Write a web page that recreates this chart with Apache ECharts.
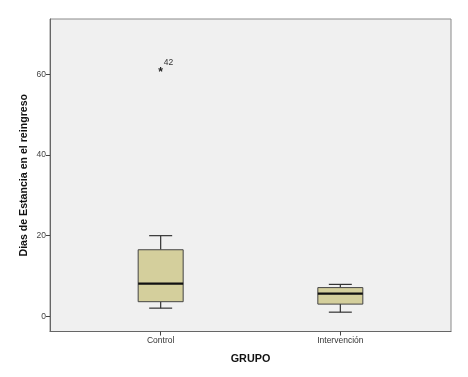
<!DOCTYPE html>
<html><head><meta charset="utf-8">
<script src="https://cdn.jsdelivr.net/npm/echarts@6/dist/echarts.min.js"></script>
<style>html,body{margin:0;padding:0;background:#fff;}#c{width:468px;height:377px;}</style>
</head><body><div id="c"></div>
<script>
const categories = ['Control', 'Intervención'];
const whiskerLow = [2.0, 1.0];
const q1 = [3.6, 3.0];
const median = [8.1, 5.6];
const q3 = [16.5, 7.1];
const whiskerHigh = [20.0, 7.9];
const outlierGroup = [0];
const outlierValue = [61];
const outlierCase = ['42'];
const yTicks = [0, 20, 40, 60];

const boxData = categories.map((c, i) => [i + 1, whiskerLow[i], q1[i], median[i], q3[i], whiskerHigh[i]]);
const outData = outlierGroup.map((g, i) => [g + 1, outlierValue[i], outlierCase[i]]);

const chart = echarts.init(document.getElementById('c'), null, {renderer: 'canvas'});
const fontFam = 'Liberation Sans, Arial, sans-serif';
chart.setOption({
  animation: false,
  backgroundColor: '#ffffff',
  grid: {left: 50, right: 17, top: 19, bottom: 45.5, show: true, backgroundColor: '#f0f0f0', borderColor: '#8a8a8a', borderWidth: 1},
  xAxis: {
    type: 'value', min: 0.384, max: 2.616,
    name: 'GRUPO', nameLocation: 'middle', nameGap: 22,
    nameTextStyle: {fontFamily: fontFam, fontWeight: 'bold', fontSize: 10.8, color: '#111'},
    axisLine: {show: true, onZero: false, lineStyle: {color: '#666', width: 1}},
    axisTick: {show: true, length: 4, customValues: [1, 2], lineStyle: {color: '#444'}},
    axisLabel: {customValues: [1, 2], formatter: v => categories[Math.round(v) - 1] || '', fontFamily: fontFam, fontSize: 8.5, color: '#333', margin: 5},
    splitLine: {show: false}
  },
  yAxis: {
    type: 'value', min: -3.8, max: 73.8,
    name: 'Dias de Estancia en el reingreso', nameLocation: 'middle', nameGap: 20, nameRotate: 90,
    nameMoveOverlap: false,
    nameTextStyle: {fontFamily: fontFam, fontWeight: 'bold', fontSize: 10.6, color: '#111'},
    axisLine: {show: true, onZero: false, lineStyle: {color: '#666', width: 1}},
    axisTick: {show: true, length: 4, customValues: yTicks, lineStyle: {color: '#444'}},
    axisLabel: {customValues: yTicks, fontFamily: fontFam, fontSize: 8.5, color: '#444', margin: 4},
    splitLine: {show: false}
  },
  series: [
    {
      type: 'custom',
      data: boxData,
      renderItem: function (params, api) {
        const x = api.value(0);
        const pLow = api.coord([x, api.value(1)]);
        const pQ1 = api.coord([x, api.value(2)]);
        const pMed = api.coord([x, api.value(3)]);
        const pQ3 = api.coord([x, api.value(4)]);
        const pHigh = api.coord([x, api.value(5)]);
        const bw = 45, cw = 23;
        const cx = pMed[0];
        const stroke = {stroke: '#333', lineWidth: 1.2};
        return {
          type: 'group',
          children: [
            {type: 'line', shape: {x1: cx, y1: pHigh[1], x2: cx, y2: pQ3[1]}, style: stroke},
            {type: 'line', shape: {x1: cx, y1: pLow[1], x2: cx, y2: pQ1[1]}, style: stroke},
            {type: 'line', shape: {x1: cx - cw / 2, y1: pHigh[1], x2: cx + cw / 2, y2: pHigh[1]}, style: stroke},
            {type: 'line', shape: {x1: cx - cw / 2, y1: pLow[1], x2: cx + cw / 2, y2: pLow[1]}, style: stroke},
            {type: 'rect', shape: {x: cx - bw / 2, y: pQ3[1], width: bw, height: pQ1[1] - pQ3[1]}, style: {fill: '#d4cf9c', stroke: '#444', lineWidth: 1}},
            {type: 'line', shape: {x1: cx - bw / 2, y1: pMed[1], x2: cx + bw / 2, y2: pMed[1]}, style: {stroke: '#111', lineWidth: 2.2}}
          ]
        };
      }
    },
    {
      type: 'custom',
      data: outData,
      renderItem: function (params, api) {
        const p = api.coord([api.value(0), api.value(1)]);
        return {
          type: 'group',
          children: [
            {type: 'text', style: {x: p[0], y: p[1] + 2, text: '*', fill: '#222', font: 'bold 12px ' + fontFam, align: 'center', verticalAlign: 'middle'}},
            {type: 'text', style: {x: p[0] + 3, y: p[1] - 8, text: outlierCase[params.dataIndex], fill: '#333', font: '8.5px ' + fontFam, align: 'left', verticalAlign: 'middle'}}
          ]
        };
      }
    }
  ]
});
</script></body></html>
